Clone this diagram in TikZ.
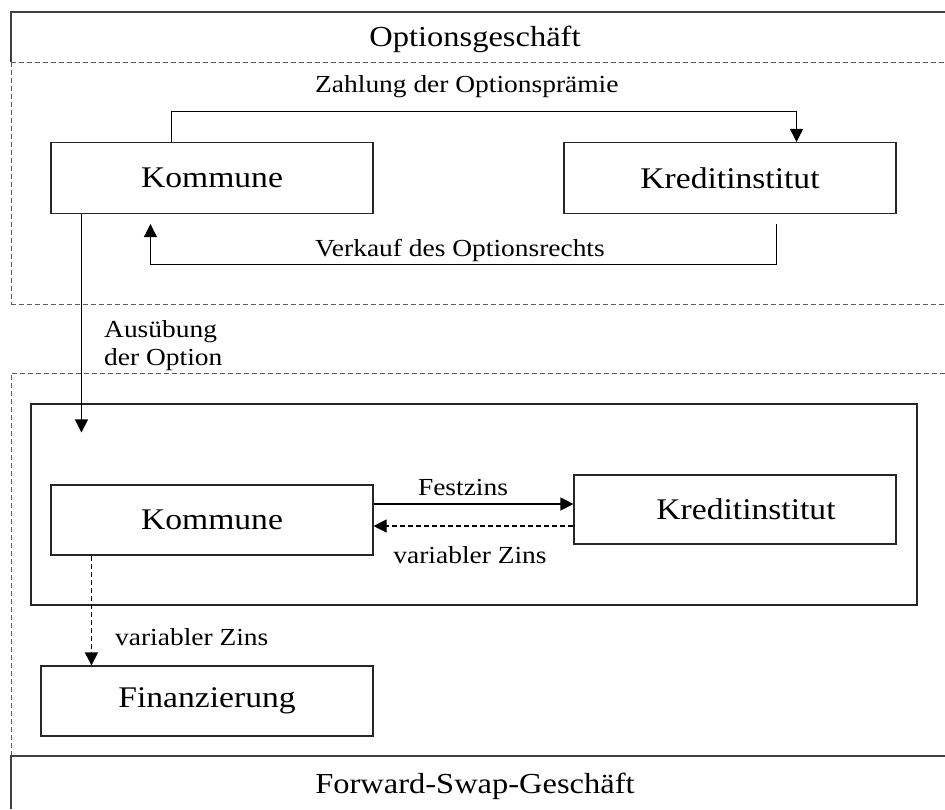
\documentclass[tikz,border=0pt]{standalone}
\usepackage{fontspec}
\setmainfont{Liberation Serif}[FakeStretch=1.12]
\usetikzlibrary{arrows.meta,calc}
\tikzset{
 box/.style={draw=black!85, line width=1.1pt, rectangle, inner sep=0pt, font=\fontsize{30}{35}\selectfont},
 lbl/.style={inner sep=0pt, font=\fontsize{24.5}{28}\selectfont},
 ttl/.style={inner sep=0pt, font=\fontsize{29}{34}\selectfont},
 conn/.style={line width=1.1pt, draw=black},
 arr/.style={conn, -{Triangle[length=13pt,width=13pt,fill=black]}},
 dsh/.style={dash pattern=on 5pt off 3pt},
 sframe/.style={line width=1.2pt, draw=black!75},
 dframe/.style={line width=1pt, draw=black!65, dash pattern=on 5pt off 3pt},
}
\begin{document}
\begin{tikzpicture}[x=1pt,y=-1pt]
\useasboundingbox[fill=white] (0,0) rectangle (945,809);

% frame of the sections
\draw[sframe] (11,62) -- (11,12) -- (945,12);
\draw[dframe] (11,62) -- (945,62);
\draw[dframe] (11,62) -- (11,304);
\draw[dframe] (11,304) -- (945,304);
\draw[dframe] (945,373) -- (11,373) -- (11,756);
\draw[sframe] (11,809) -- (11,756) -- (945,756);

% titles
\node[ttl, anchor=base] (t1) at (475,46) {Optionsgeschäft};
\node[ttl, anchor=base] (t2) at (475,793) {Forward-Swap-Geschäft};

% upper section
\node[box, minimum width=322pt, minimum height=71pt] (kom1) at (212,178) {Kommune};
\node[box, minimum width=332pt, minimum height=71pt] (kr1) at (730,178) {Kreditinstitut};

\draw[arr] ([xshift=121pt]kom1.north west) -- ++(0,-30.5) -| ([xshift=-100pt]kr1.north east);
\node[lbl, anchor=base west] (lz) at (315,92) {Zahlung der Optionsprämie};

\draw[arr] ([xshift=-120pt,yshift=-10pt]kr1.south east) -- ++(0,40) -| ([xshift=100pt,yshift=-10pt]kom1.south west);
\node[lbl, anchor=base west] (lv) at (315,256) {Verkauf des Optionsrechts};

% lower section
\node[draw=black!85, line width=1.1pt, minimum width=886pt, minimum height=201pt, inner sep=0pt] (inner) at (474,504.5) {};
\node[box, minimum width=322pt, minimum height=70pt] (kom2) at (212,520) {Kommune};
\node[box, minimum width=322pt, minimum height=69pt] (kr2) at (735,509.5) {\hskip 22pt Kreditinstitut};
\node[box, minimum width=332pt, minimum height=70pt] (fin) at (207,701) {Finanzierung};

\draw[arr] ([xshift=31pt]kom1.south west) -- ([xshift=51pt,yshift=-29pt]inner.north west);
\node[lbl, anchor=base west] (la1) at (104,337) {Ausübung};
\node[lbl, anchor=base west] (la2) at (104,365) {der Option};

\coordinate (f1) at ([yshift=16pt]kom2.east);
\draw[arr] (f1) -- (f1 -| kr2.west);
\node[lbl, anchor=base] (lf) at (463,495) {Festzins};

\coordinate (v1) at ([yshift=-6pt]kom2.east);
\draw[arr, dsh] (v1 -| kr2.west) -- (v1);
\node[lbl, anchor=base] (lvz) at (470,563) {variabler Zins};

\coordinate (d1) at ([xshift=41pt]kom2.south west);
\draw[arr, dsh] (d1) -- (d1 |- fin.north);
\node[lbl, anchor=base west] (lvz2) at (115,645) {variabler Zins};
\end{tikzpicture}
\end{document}
